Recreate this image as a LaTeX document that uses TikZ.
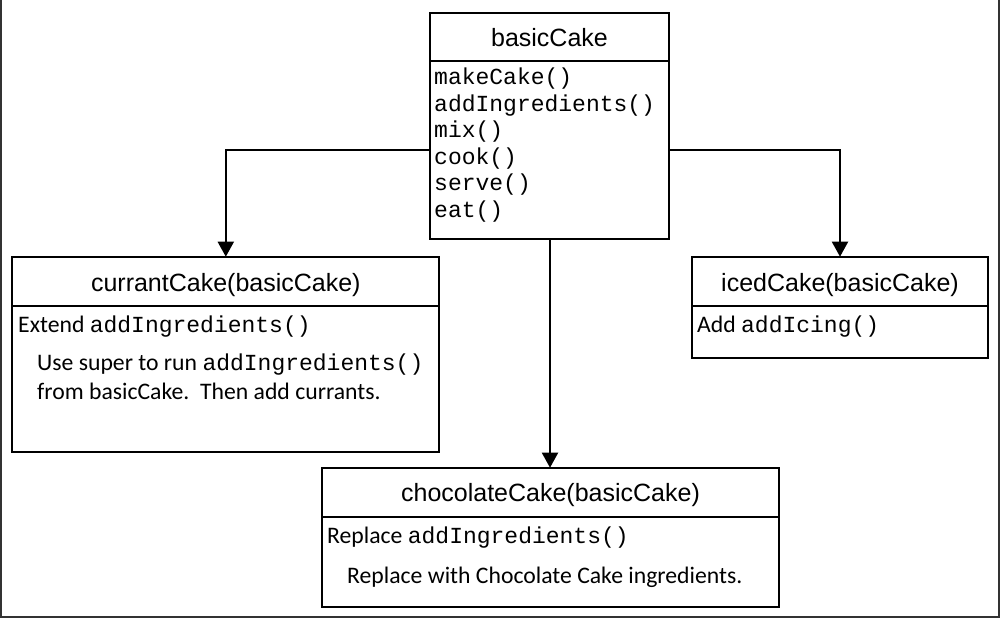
\documentclass[tikz,border=0pt]{standalone}
\usepackage{fontspec}
\setmainfont{Carlito}
\newfontfamily\arialf{Liberation Sans}
\newfontfamily\courf{Liberation Mono}
\usetikzlibrary{arrows.meta,calc}
\newcommand\cdtxt[1]{{\courf\fontsize{23}{27}\selectfont #1}}
\tikzset{
  classbox/.style={draw, line width=1.8pt, rectangle, inner sep=0pt, outer sep=0pt, anchor=north west},
  ttl/.style={anchor=base, inner sep=0pt, font=\arialf\fontsize{25}{30}\selectfont},
  meth/.style={anchor=base west, inner sep=0pt, font=\courf\fontsize{23}{27}\selectfont},
  txt/.style={anchor=base west, inner sep=0pt, font=\fontsize{23.7}{28}\selectfont},
  sep/.style={line width=1.8pt},
  inh/.style={line width=2pt, -{Triangle[width=16pt,length=15pt]}},
  frame/.style={line width=2pt, black!80}
}
\begin{document}
\begin{tikzpicture}[x=1pt,y=-1pt]
\useasboundingbox (0,0) rectangle (1000,618);
\draw[frame] (1,0) -- (1,617) -- (999,617) -- (999,0);

% boxes
\node[classbox, minimum width=239pt, minimum height=226.5pt] (basic) at (430,12.7) {};
\node[classbox, minimum width=427pt, minimum height=195pt] (currant) at (12.3,256.7) {};
\node[classbox, minimum width=296.6pt, minimum height=101.3pt] (iced) at (691.7,256.7) {};
\node[classbox, minimum width=457.6pt, minimum height=139pt] (choc) at (321.7,467.7) {};

% separators
\draw[sep] ([yshift=-48.3pt]basic.north west) -- ([yshift=-48.3pt]basic.north east);
\draw[sep] ([yshift=-49.3pt]currant.north west) -- ([yshift=-49.3pt]currant.north east);
\draw[sep] ([yshift=-49.3pt]iced.north west) -- ([yshift=-49.3pt]iced.north east);
\draw[sep] ([yshift=-49pt]choc.north west) -- ([yshift=-49pt]choc.north east);

% titles
\node[ttl] (tbasic) at (549.5,47) {basicCake};
\node[ttl] (tcurrant) at (225.8,291.7) {currantCake(basicCake)};
\node[ttl] (ticed) at (840,291.7) {icedCake(basicCake)};
\node[ttl] (tchoc) at (550.5,501.7) {chocolateCake(basicCake)};

% methods
\node[meth] (m1) at (434,84.5) {makeCake()};
\node[meth] (m2) at (434,111) {addIngredients()};
\node[meth] (m3) at (434,137.5) {mix()};
\node[meth] (m4) at (434,164) {cook()};
\node[meth] (m5) at (434,190.5) {serve()};
\node[meth] (m6) at (434,217) {eat()};

% currant text
\node[txt] (c1) at (18,332.7) {Extend \cdtxt{addIngredients()}};
\node[txt] (c2) at (37,370) {Use super to run \cdtxt{addIngredients()}};
\node[txt] (c3) at (37,399) {from basicCake.\ \ Then add currants.};

% iced text
\node[txt] (i1) at (697,332.7) {Add \cdtxt{addIcing()}};

% chocolate text
\node[txt] (h1) at (327,543.3) {Replace \cdtxt{addIngredients()}};
\node[txt] (h2) at (347,583) {Replace with Chocolate Cake ingredients.};

% connectors
\coordinate (lj) at ([yshift=-24pt]basic.west);
\coordinate (rj) at ([yshift=-24pt]basic.east);
\coordinate (mj) at ([xshift=0.5pt]basic.south);
\draw[inh] (lj) -| (currant.north);
\draw[inh] (rj) -| (iced.north);
\draw[inh] (mj) -- (mj |- choc.north);
\end{tikzpicture}
\end{document}
